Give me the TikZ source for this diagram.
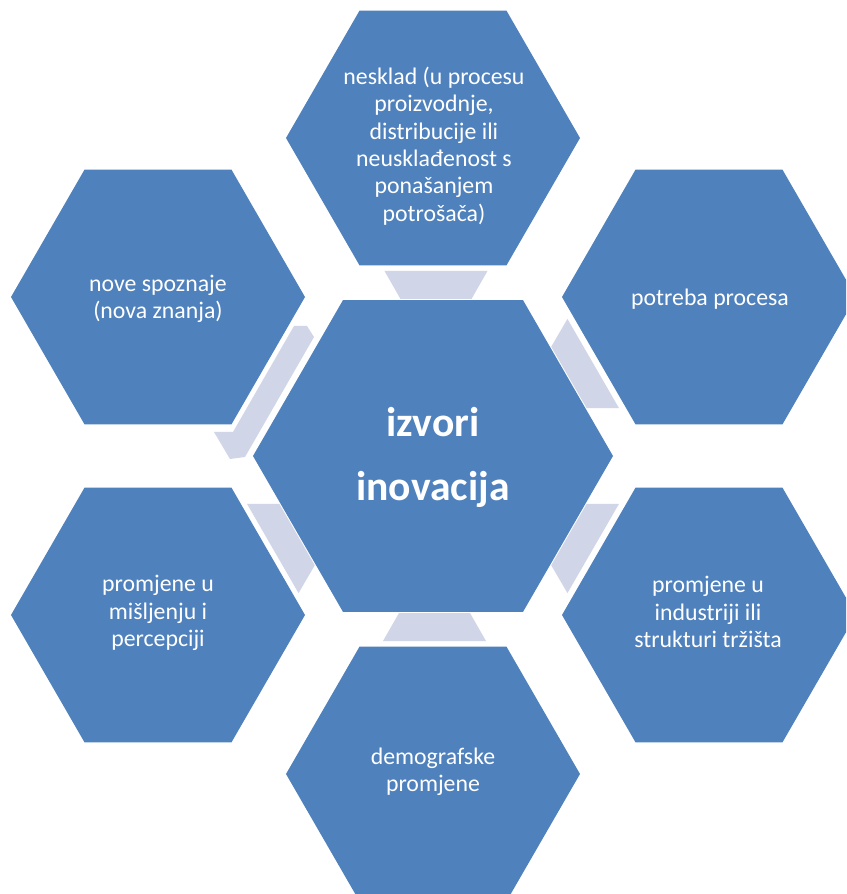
\documentclass[tikz,border=0pt]{standalone}
\usepackage{fontspec}
\setmainfont{Carlito}
\usetikzlibrary{calc}
\definecolor{hexblue}{RGB}{79,129,189}
\definecolor{connfill}{RGB}{208,214,232}
\tikzset{
  hexfill/.style={fill=hexblue},
  connector/.style={fill=connfill},
  lbl/.style={text=white, align=center, inner sep=0pt,
    font=\fontsize{23.8}{27.4}\selectfont},
  centerlbl/.style={text=white, align=center, inner sep=0pt,
    font=\bfseries\fontsize{41.6}{64}\selectfont},
}
\begin{document}
\begin{tikzpicture}[x=1pt,y=1pt]
\useasboundingbox (-433,-438) rectangle (413,456);
\clip (-433,-438) rectangle (413,456);
\fill[white] (-433,-438) rectangle (413,456);
% hexagon centres
\coordinate (hC) at (0,0);
\coordinate (hT) at (0,318);
\coordinate (hTR) at (276,159);
\coordinate (hBR) at (276,-159);
\coordinate (hB) at (0,-318);
\coordinate (hBL) at (-275,-159);
\coordinate (hTL) at (-275,159);
% hexagons
\fill[hexfill] (hC) ++(180,0) -- ++(120:180) -- ++(180:180) -- ++(240:180) -- ++(300:180) -- ++(0:180) -- cycle;
\foreach \h in {hT,hTR,hBR,hB,hBL,hTL}{
  \fill[hexfill] (\h) ++(147,0) -- ++(120:147) -- ++(180:147) -- ++(240:147) -- ++(300:147) -- ++(0:147) -- cycle;
}
% connectors (trapezoids in the gaps)
\foreach \ang/\off in {90/3, 30/0, -30/0, -90/-1.5, -150/0}{
  \begin{scope}[rotate=\ang-90]
    \fill[connector] (\off-35.5,157) -- (\off+35.5,157) -- (\off+51.5,185) -- (\off-51.5,185) -- cycle;
  \end{scope}
}
% bent connector at upper left
\fill[connector] (-139,130) -- (-126,130) -- (-119,119) -- (-188,-1) -- (-203,-3) -- (-219,24) -- (-200,24) -- cycle;
% labels
\node[centerlbl] (tC) at (0,-1) {izvori\\inovacija};
\node[lbl] (tT) at (1,310) {nesklad (u procesu\\proizvodnje,\\distribucije ili\\neusklađenost s\\ponašanjem\\potrošača)};
\node[lbl] (tTR) at (277,157) {potreba procesa};
\node[lbl] (tBR) at (275,-156) {promjene u\\industriji ili\\strukturi tržišta};
\node[lbl] (tB) at (0,-316) {demografske\\promjene};
\node[lbl] (tBL) at (-275,-157) {promjene u\\mišljenju i\\percepciji};
\node[lbl] (tTL) at (-275,157) {nove spoznaje\\(nova znanja)};
\end{tikzpicture}
\end{document}
